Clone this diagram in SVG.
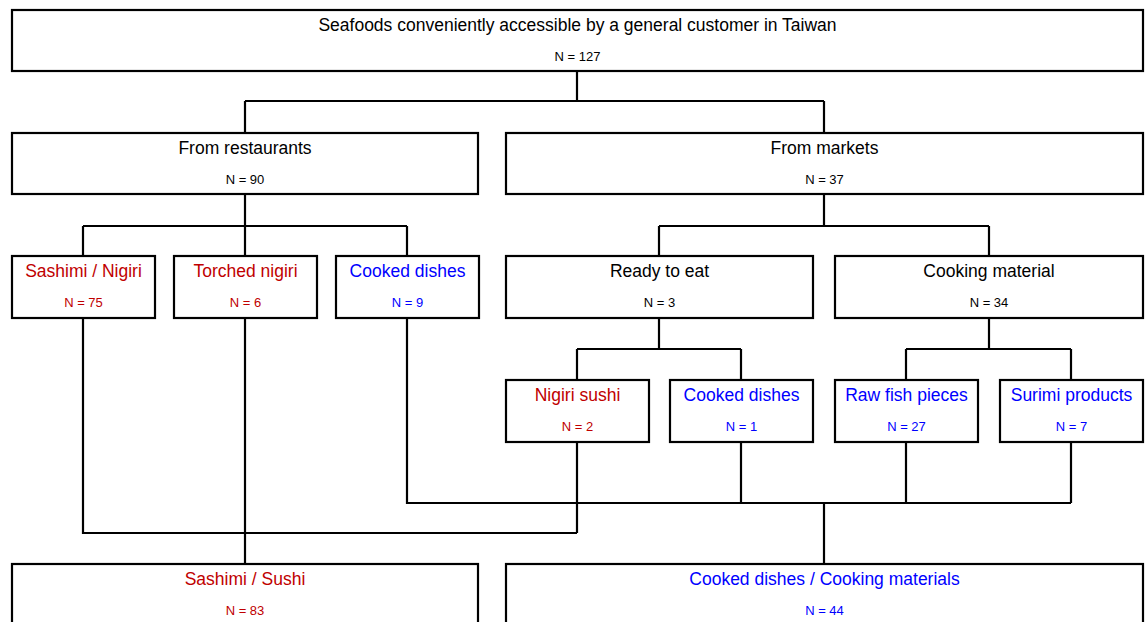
<svg xmlns="http://www.w3.org/2000/svg" width="1146" height="622" viewBox="0 0 1146 622">
<style>
rect.box{fill:#fff;stroke:#000;stroke-width:2.2}
.lbl{font-family:"Liberation Sans",Arial,sans-serif;font-size:17.5px;text-anchor:middle}
.n{font-family:"Liberation Sans",Arial,sans-serif;font-size:13px;text-anchor:middle}
.k{fill:#000}.r{fill:#c00000}.b{fill:#0000ff}
#connectors path{fill:none;stroke:#000;stroke-width:2.2}
</style>
<rect width="1146" height="622" fill="#fff"/>
<g id="connectors">
<path d="M577,71V101M245,101H824M245,101V133M824,101V133"/>
<path d="M245,194V226M83,226H407M83,226V256M245,226V256M407,226V256"/>
<path d="M824,194V226M659,226H989M659,226V256M989,226V256"/>
<path d="M659,318V349M577,349H741M577,349V380M741,349V380"/>
<path d="M989,318V349M906,349H1071M906,349V380M1071,349V380"/>
<path d="M83,318V533H577M577,442V533"/>
<path d="M245,318V564"/>
<path d="M407,318V503H1071M741,442V503M906,442V503M1071,442V503M824,503V564"/>
</g>
<g id="root"><rect class="box" x="12" y="10" width="1131" height="61"/><text class="lbl k" x="577.5" y="31">Seafoods conveniently accessible by a general customer in Taiwan</text><text class="n k" x="577.5" y="61">N = 127</text></g>
<g id="restaurants"><rect class="box" x="12" y="133" width="466" height="61"/><text class="lbl k" x="245" y="154">From restaurants</text><text class="n k" x="245" y="184">N = 90</text></g>
<g id="markets"><rect class="box" x="506" y="133" width="637" height="61"/><text class="lbl k" x="824.5" y="154">From markets</text><text class="n k" x="824.5" y="184">N = 37</text></g>
<g id="sashimi-nigiri"><rect class="box" x="12" y="256" width="143" height="62"/><text class="lbl r" x="83.5" y="277">Sashimi / Nigiri</text><text class="n r" x="83.5" y="307">N = 75</text></g>
<g id="torched-nigiri"><rect class="box" x="174" y="256" width="143" height="62"/><text class="lbl r" x="245.5" y="277">Torched nigiri</text><text class="n r" x="245.5" y="307">N = 6</text></g>
<g id="cooked-restaurant"><rect class="box" x="336" y="256" width="143" height="62"/><text class="lbl b" x="407.5" y="277">Cooked dishes</text><text class="n b" x="407.5" y="307">N = 9</text></g>
<g id="ready-to-eat"><rect class="box" x="506" y="256" width="307" height="62"/><text class="lbl k" x="659.5" y="277">Ready to eat</text><text class="n k" x="659.5" y="307">N = 3</text></g>
<g id="cooking-material"><rect class="box" x="835" y="256" width="308" height="62"/><text class="lbl k" x="989" y="277">Cooking material</text><text class="n k" x="989" y="307">N = 34</text></g>
<g id="nigiri-sushi"><rect class="box" x="506" y="380" width="143" height="62"/><text class="lbl r" x="577.5" y="401">Nigiri sushi</text><text class="n r" x="577.5" y="431">N = 2</text></g>
<g id="cooked-market"><rect class="box" x="670" y="380" width="143" height="62"/><text class="lbl b" x="741.5" y="401">Cooked dishes</text><text class="n b" x="741.5" y="431">N = 1</text></g>
<g id="raw-fish"><rect class="box" x="835" y="380" width="143" height="62"/><text class="lbl b" x="906.5" y="401">Raw fish pieces</text><text class="n b" x="906.5" y="431">N = 27</text></g>
<g id="surimi"><rect class="box" x="1000" y="380" width="143" height="62"/><text class="lbl b" x="1071.5" y="401">Surimi products</text><text class="n b" x="1071.5" y="431">N = 7</text></g>
<g id="sashimi-sushi"><rect class="box" x="12" y="564" width="466" height="70"/><text class="lbl r" x="245" y="585">Sashimi / Sushi</text><text class="n r" x="245" y="615">N = 83</text></g>
<g id="cooked-materials"><rect class="box" x="506" y="564" width="637" height="70"/><text class="lbl b" x="824.5" y="585">Cooked dishes / Cooking materials</text><text class="n b" x="824.5" y="615">N = 44</text></g>
</svg>
